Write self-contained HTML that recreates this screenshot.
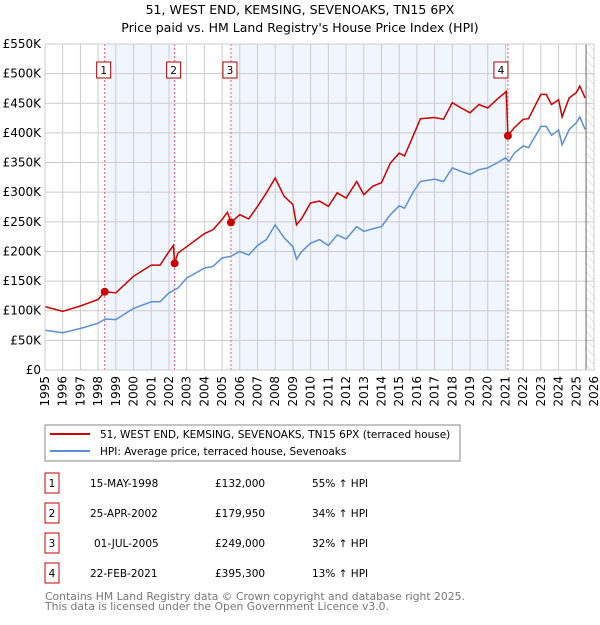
<!DOCTYPE html>
<html><head><meta charset="utf-8"><style>
body{margin:0;background:#fff;width:600px;height:620px;overflow:hidden;font-family:"Liberation Sans","DejaVu Sans",sans-serif;}
svg text{font-family:"DejaVu Sans","Liberation Sans",sans-serif;}
</style></head><body>
<svg id="c" width="600" height="620" xmlns="http://www.w3.org/2000/svg">
<defs><pattern id="hatch" width="6" height="6" patternUnits="userSpaceOnUse" patternTransform="rotate(-45)"><line x1="0" y1="0" x2="0" y2="6" stroke="#ccc" stroke-width="1"/></pattern></defs>
<text x="300" y="14" text-anchor="middle" font-size="12.5">51, WEST END, KEMSING, SEVENOAKS, TN15 6PX</text>
<text x="300" y="32" text-anchor="middle" font-size="12.5">Price paid vs. HM Land Registry's House Price Index (HPI)</text>
<g id="plot"></g>
<g>
<rect x="45" y="425" width="415" height="36" fill="#fff" stroke="#888"/>
<line x1="50" y1="434" x2="90" y2="434" stroke="#cc0000" stroke-width="2"/>
<text x="100" y="438" font-size="10.5">51, WEST END, KEMSING, SEVENOAKS, TN15 6PX (terraced house)</text>
<line x1="50" y1="451" x2="90" y2="451" stroke="#5b8fd6" stroke-width="2"/>
<text x="100" y="455" font-size="10.5">HPI: Average price, terraced house, Sevenoaks</text>
</g>
<g id="table" font-size="10.5"></g>
<text x="45" y="600" font-size="10.8" fill="#777">Contains HM Land Registry data © Crown copyright and database right 2025.</text>
<text x="45" y="610" font-size="10.8" fill="#777">This data is licensed under the Open Government Licence v3.0.</text>
</svg>
<script>
const hpiT=[1995,1996,1997,1998,1998.4,1999,2000,2001,2001.5,2002,2002.5,2003,2004,2004.5,2005,2005.5,2006,2006.5,2007,2007.5,2008,2008.5,2009,2009.2,2009.5,2010,2010.5,2011,2011.5,2012,2012.6,2013,2013.5,2014,2014.5,2015,2015.3,2015.8,2016.2,2017,2017.5,2018,2018.5,2019,2019.5,2020,2020.5,2021,2021.2,2021.5,2022,2022.3,2023,2023.3,2023.6,2024,2024.2,2024.6,2025,2025.2,2025.5];
const hpiV=[67,63,70,79,86,85,104,115,115,130,138,155,172,175,189,192,200,194,210,220,245,223,208,187,200,214,220,210,228,221,242,234,238,242,262,277,273,301,318,322,318,341,335,330,338,341,349,358,352,366,378,375,411,411,396,405,380,406,417,427,406];
const redT=[1995,1996,1997,1998,1998.37,1999,2000,2001,2001.5,2002,2002.25,2002.32,2002.5,2003,2004,2004.5,2005,2005.3,2005.5,2006,2006.5,2007,2007.5,2008,2008.5,2009,2009.2,2009.5,2010,2010.5,2011,2011.5,2012,2012.6,2013,2013.5,2014,2014.5,2015,2015.3,2015.8,2016.2,2017,2017.5,2018,2018.5,2019,2019.5,2020,2020.5,2021.05,2021.14,2021.5,2022,2022.3,2023,2023.3,2023.6,2024,2024.2,2024.6,2025,2025.2,2025.5];
const redV=[107,99,108,119,132,130,158,177,177,200,210,180,197,208,230,237,254,266,249,262,255,276,299,324,293,279,245,256,282,285,276,299,290,318,296,310,316,349,366,361,396,424,426,423,451,442,434,448,442,456,470,395,409,423,424,465,465,448,456,427,459,468,479,459];
const saleT=[1998.37,2002.32,2005.5,2021.14];
const saleV=[132,179.95,249,395.3];
const saleLabels=["1","2","3","4"];
const saleDates=["15-MAY-1998","25-APR-2002","01-JUL-2005","22-FEB-2021"];
const salePrices=["£132,000","£179,950","£249,000","£395,300"];
const saleHpi=["55% ↑ HPI","34% ↑ HPI","32% ↑ HPI","13% ↑ HPI"];
const yTicks=[0,50,100,150,200,250,300,350,400,450,500,550];
const yTickLabels=["£0","£50K","£100K","£150K","£200K","£250K","£300K","£350K","£400K","£450K","£500K","£550K"];
const xTicks=[];for(let y=1995;y<=2026;y++)xTicks.push(y);

const L=45,R=594,T=44,B=370,X0=1995,X1=2026,YMAX=550,DATAEND=2025.55;
const sx=t=>L+(t-X0)/(X1-X0)*(R-L);
const sy=v=>B-v/YMAX*(B-T);
const NS="http://www.w3.org/2000/svg";
const g=document.getElementById('plot');
function mk(tag,attrs,parent){const e=document.createElementNS(NS,tag);for(const k in attrs)e.setAttribute(k,attrs[k]);(parent||g).appendChild(e);return e;}
let e;
e=mk('rect',{x:L,y:T,width:R-L,height:B-T,fill:'#fff'});


for(let i=0;i<saleT.length-1;i+=2){
 e=mk('rect',{x:sx(saleT[i]),y:T,width:sx(saleT[i+1])-sx(saleT[i]),height:B-T,fill:'#f1f5fd'});
 
 
}
e=mk('rect',{x:sx(DATAEND),y:T,width:R-sx(DATAEND),height:B-T,fill:'url(#hatch)'});


xTicks.forEach((t,i)=>{
 e=mk('line',{x1:sx(t),x2:sx(t),y1:T,y2:B,stroke:'#ccc','stroke-width':1});
 
 
 e=mk('text',{x:0,y:0,'font-size':12,'text-anchor':'end',transform:`translate(${sx(t)+4},${B+6}) rotate(-90)`});
 e.textContent=t;
 
 
});
yTicks.forEach((v,i)=>{
 e=mk('line',{x1:L,x2:R,y1:sy(v),y2:sy(v),stroke:'#ccc','stroke-width':1});
 
 
 e=mk('text',{x:L-4,y:sy(v)+4,'font-size':12,'text-anchor':'end'});
 e.textContent=yTickLabels[i];
 
 
});
e=mk('line',{x1:sx(DATAEND),x2:sx(DATAEND),y1:T,y2:B,stroke:'#666','stroke-width':1});


saleT.forEach((t,i)=>{
 e=mk('line',{x1:sx(t),x2:sx(t),y1:T,y2:B,stroke:'#e06070','stroke-width':1,'stroke-dasharray':'2,2'});
 
 
});
const path=(ts,vs)=>ts.map((t,i)=>(i?'L':'M')+sx(t).toFixed(1)+','+sy(vs[i]).toFixed(1)).join('');
e=mk('path',{d:path(hpiT,hpiV),fill:'none',stroke:'#5b8fd6','stroke-width':1.5});


e=mk('path',{d:path(redT,redV),fill:'none',stroke:'#cc0000','stroke-width':1.5});


saleT.forEach((t,i)=>{
 e=mk('circle',{cx:sx(t),cy:sy(saleV[i]),r:4,fill:'#cc0000'});
 
 
 const bx=sx(t)-(i==3?14:8);
 e=mk('rect',{x:bx,y:62,width:14,height:16,fill:'#fff',stroke:'#b00000'});
 
 
 e=mk('text',{x:bx+7,y:74,'font-size':10.5,'text-anchor':'middle'});
 e.textContent=saleLabels[i];
 
 
});
e=mk('rect',{x:L,y:T,width:R-L,height:B-T,fill:'none',stroke:'#ccc'});


const tb=document.getElementById('table');
saleLabels.forEach((l,i)=>{
 const cy=483+i*30;
 e=mk('rect',{x:45,y:cy-10,width:14,height:20,fill:'#fff',stroke:'#cc0000'},tb);
 
 
 const cells=[[52,l,'middle'],[90+(i==2?4:0),saleDates[i],'start'],[215,salePrices[i],'start'],[312,saleHpi[i],'start']];
 cells.forEach((c,j)=>{
  e=mk('text',{x:c[0],y:cy+4,'text-anchor':c[2]},tb);
  e.textContent=c[1];
  
  
 });
});
</script>
</body></html>
